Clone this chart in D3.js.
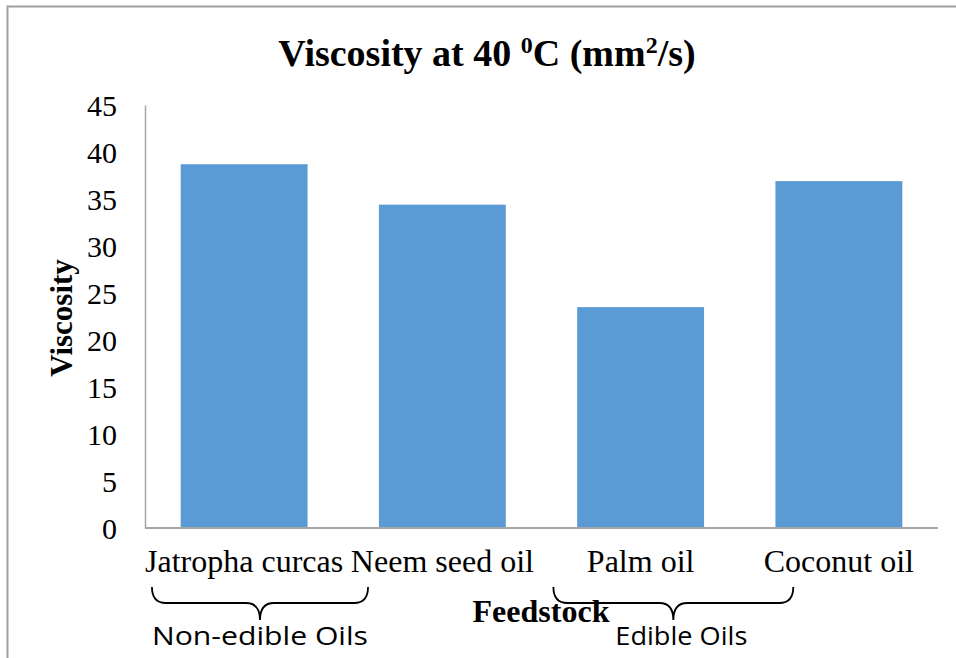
<!DOCTYPE html>
<html>
<head>
<meta charset="utf-8">
<script src="https://cdn.jsdelivr.net/npm/d3@7"></script>
<style>
  body { margin: 0; background: #fff; }
  svg { display: block; }
</style>
</head>
<body>
<div id="chart"></div>
<script>
// data
var categories = ['Jatropha curcas', 'Neem seed oil', 'Palm oil', 'Coconut oil'];
var viscosity = [38.7, 34.4, 23.5, 36.9];
var yTicks = [0, 5, 10, 15, 20, 25, 30, 35, 40, 45];
// brace groups, span given in category-band units
var groupLabels = ['Non-edible Oils', 'Edible Oils'];
var groupStart = [0.035, 2.06];
var groupEnd = [1.125, 3.27];

var width = 956;
var height = 658;
var margin = {top: 105, right: 18, bottom: 130, left: 145};

var svg = d3.select('#chart')
  .append('svg')
  .attr('width', width)
  .attr('height', height);

// outer frame (only top and left edges show in the picture)
svg.append('path')
  .attr('d', 'M7.5,' + height + 'V6.5H' + width)
  .attr('fill', 'none')
  .attr('stroke', '#a0a0a0')
  .attr('stroke-width', 2);

var x = d3.scaleBand()
  .domain(categories)
  .range([margin.left, width - margin.right])
  .paddingInner(0.36)
  .paddingOuter(0.18);

var y = d3.scaleLinear()
  .domain([0, 45])
  .range([height - margin.bottom, margin.top]);

// bars
svg.selectAll('rect.bar')
  .data(viscosity)
  .enter()
  .append('rect')
  .attr('class', 'bar')
  .attr('x', function(d, i) { return x(categories[i]); })
  .attr('width', x.bandwidth())
  .attr('y', function(d) { return y(d); })
  .attr('height', function(d) { return y(0) - y(d); })
  .attr('fill', '#5b9bd5');

// y axis
var yAxis = svg.append('g')
  .attr('transform', 'translate(' + margin.left + ',0)')
  .call(d3.axisLeft(y).tickValues(yTicks).tickSize(0).tickPadding(28).tickSizeOuter(0));
yAxis.select('.domain').attr('stroke', '#a6a6a6').attr('stroke-width', 1.5);
yAxis.selectAll('text')
  .attr('font-family', '"Liberation Serif", "Times New Roman", serif')
  .attr('font-size', 30)
  .attr('fill', '#000')
  .attr('dy', '0.34em');

// x axis
var xAxis = svg.append('g')
  .attr('transform', 'translate(0,' + y(0) + ')')
  .call(d3.axisBottom(x).tickSize(0).tickPadding(22).tickSizeOuter(0));
xAxis.select('.domain')
  .attr('d', 'M' + margin.left + ',0H' + (width - margin.right))
  .attr('stroke', '#a6a6a6').attr('stroke-width', 2);
xAxis.selectAll('text')
  .attr('font-family', '"Liberation Serif", "Times New Roman", serif')
  .attr('font-size', 32)
  .attr('fill', '#000')
  .attr('dy', '0.68em');

// title
var title = svg.append('text')
  .attr('x', 487)
  .attr('y', 66)
  .attr('text-anchor', 'middle')
  .attr('font-family', '"Liberation Serif", "Times New Roman", serif')
  .attr('font-weight', 'bold')
  .attr('font-size', 38);
title.append('tspan').text('Viscosity at 40 ');
title.append('tspan').attr('font-size', 24).attr('dy', -13).text('0');
title.append('tspan').attr('dy', 13).text('C (mm');
title.append('tspan').attr('font-size', 24).attr('dy', -13).text('2');
title.append('tspan').attr('dy', 13).text('/s)');

// y label
svg.append('text')
  .attr('transform', 'translate(72,318) rotate(-90)')
  .attr('text-anchor', 'middle')
  .attr('font-family', '"Liberation Serif", "Times New Roman", serif')
  .attr('font-weight', 'bold')
  .attr('font-size', 31)
  .text('Viscosity');

// x label
svg.append('text')
  .attr('x', 541)
  .attr('y', 622)
  .attr('text-anchor', 'middle')
  .attr('font-family', '"Liberation Serif", "Times New Roman", serif')
  .attr('font-weight', 'bold')
  .attr('font-size', 32)
  .text('Feedstock');

// group braces
function bracePath(x1, x2) {
  var y0 = 587, y1 = 603, y2 = 620, r = 14;
  var xm = (x1 + x2) / 2;
  return 'M' + x1 + ',' + y0 +
    'Q' + x1 + ',' + y1 + ' ' + (x1 + r) + ',' + y1 +
    'L' + (xm - r) + ',' + y1 +
    'Q' + xm + ',' + y1 + ' ' + xm + ',' + y2 +
    'Q' + xm + ',' + y1 + ' ' + (xm + r) + ',' + y1 +
    'L' + (x2 - r) + ',' + y1 +
    'Q' + x2 + ',' + y1 + ' ' + x2 + ',' + y0;
}
var step = x.step();
var x0 = margin.left;
var groupWidths = [216, 132];

groupLabels.forEach(function(label, i) {
  var gx1 = x0 + groupStart[i] * step;
  var gx2 = x0 + groupEnd[i] * step;
  svg.append('path')
    .attr('d', bracePath(gx1, gx2))
    .attr('fill', 'none')
    .attr('stroke', '#000')
    .attr('stroke-width', 1.8);
  svg.append('text')
    .attr('x', (gx1 + gx2) / 2 + (i == 1 ? 8 : 0))
    .attr('y', 645)
    .attr('text-anchor', 'middle')
    .attr('font-family', '"Open Sans", sans-serif')
    .attr('font-size', 25)
    .attr('textLength', groupWidths[i])
    .attr('lengthAdjust', 'spacingAndGlyphs')
    .text(label);
});
</script>
</body>
</html>
